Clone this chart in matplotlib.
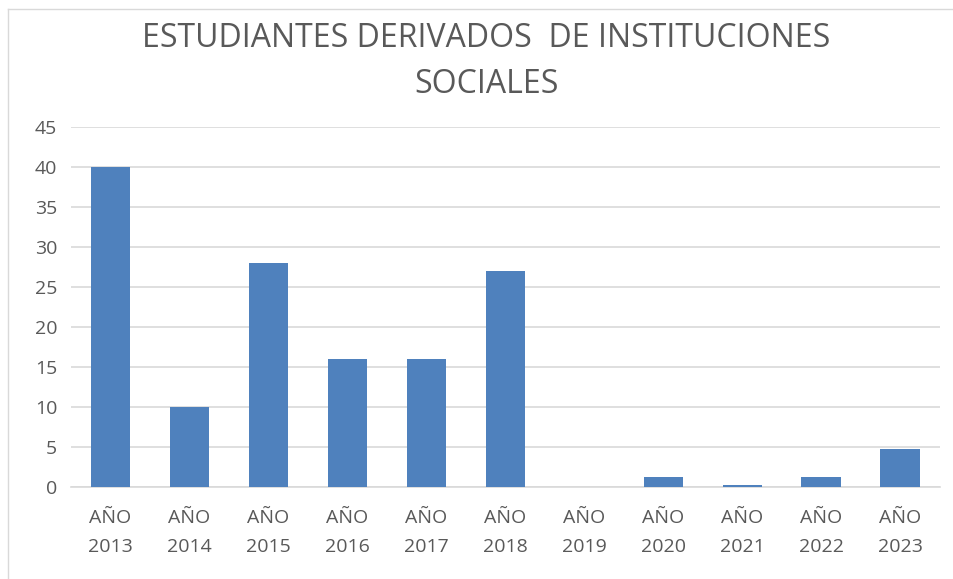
import matplotlib
matplotlib.use("Agg")
import matplotlib.pyplot as plt
from matplotlib.lines import Line2D

categories = ["AÑO\n2013", "AÑO\n2014", "AÑO\n2015", "AÑO\n2016", "AÑO\n2017", "AÑO\n2018",
              "AÑO\n2019", "AÑO\n2020", "AÑO\n2021", "AÑO\n2022", "AÑO\n2023"]
values = [40, 10, 28, 16, 16, 27, 0, 1.3, 0.3, 1.3, 4.7]
yticks = [0, 5, 10, 15, 20, 25, 30, 35, 40, 45]
title = "ESTUDIANTES DERIVADOS  DE INSTITUCIONES\nSOCIALES"

plt.rcParams['font.family'] = ['Open Sans', 'DejaVu Sans']
text_color = "#595959"

fig = plt.figure(figsize=(9.54, 5.79), dpi=100)
ax = fig.add_axes([0.0744, 0.1589, 0.9106, 0.6218])

x = list(range(len(categories)))
ax.bar(x, values, width=0.5, color="#4F81BD", zorder=3)
ax.set_xlim(-0.5, len(categories) - 0.5)
ax.set_ylim(0, 45)
ax.set_yticks(yticks)
ax.set_xticks(x)
ax.set_xticklabels(categories, fontsize=14, color=text_color, linespacing=1.75)
ax.tick_params(axis='y', labelsize=14, labelcolor=text_color, length=0, pad=10)
ax.tick_params(axis='x', length=0, pad=16)
ax.grid(axis='y', color="#D9D9D9", linewidth=1.2, zorder=0)
for s in ["top", "right", "left"]:
    ax.spines[s].set_visible(False)
ax.spines["bottom"].set_color("#D9D9D9")
ax.spines["bottom"].set_linewidth(1.2)

fig.text(0.51, 0.962, title, ha='center', va='top', fontsize=23, color=text_color, linespacing=1.5)

# chart frame (top and left edges visible)
fig.add_artist(Line2D([8 / 954, 1.0], [1 - 9 / 579, 1 - 9 / 579], transform=fig.transFigure,
                      color="#D9D9D9", linewidth=1.0))
fig.add_artist(Line2D([8 / 954, 8 / 954], [0.0, 1 - 9 / 579], transform=fig.transFigure,
                      color="#D9D9D9", linewidth=1.0))

fig.savefig("out.png", dpi=100)
